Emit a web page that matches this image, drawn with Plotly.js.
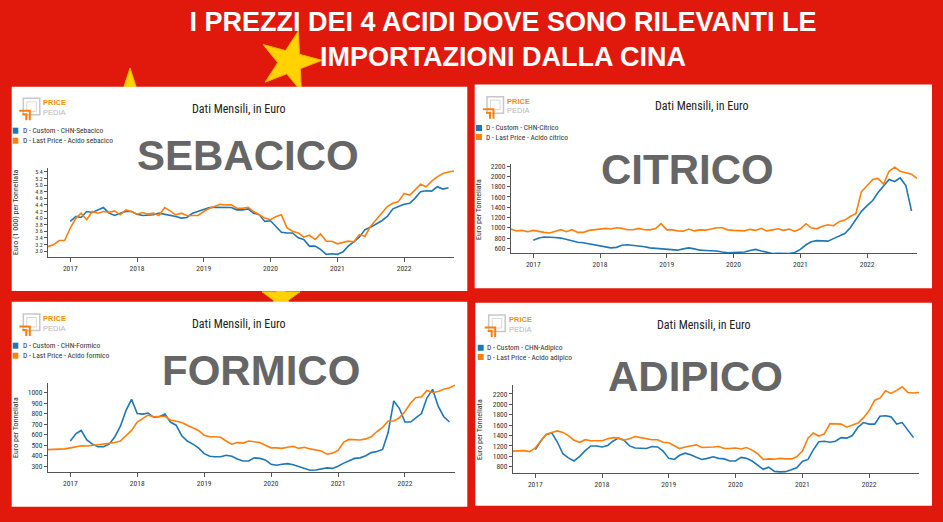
<!DOCTYPE html>
<html><head><meta charset="utf-8">
<script src="https://cdn.plot.ly/plotly-3.0.1.min.js"></script>
<style>html,body{margin:0;padding:0;background:#E1190C;} #chart{width:943px;height:522px;}</style>
</head><body><div id="chart"></div>
<script>
// ---------- DATA ----------
const months = [
'2016-09','2016-10','2016-11','2016-12',
'2017-01','2017-02','2017-03','2017-04','2017-05','2017-06','2017-07','2017-08','2017-09','2017-10','2017-11','2017-12',
'2018-01','2018-02','2018-03','2018-04','2018-05','2018-06','2018-07','2018-08','2018-09','2018-10','2018-11','2018-12',
'2019-01','2019-02','2019-03','2019-04','2019-05','2019-06','2019-07','2019-08','2019-09','2019-10','2019-11','2019-12',
'2020-01','2020-02','2020-03','2020-04','2020-05','2020-06','2020-07','2020-08','2020-09','2020-10','2020-11','2020-12',
'2021-01','2021-02','2021-03','2021-04','2021-05','2021-06','2021-07','2021-08','2021-09','2021-10','2021-11','2021-12',
'2022-01','2022-02','2022-03','2022-04','2022-05','2022-06','2022-07','2022-08','2022-09','2022-10'];
const monthsChn = months.slice(4, 73); // 2017-01 .. 2022-09

const yearTicks = ['2017-01-01','2018-01-01','2019-01-01','2020-01-01','2021-01-01','2022-01-01'];
const yearLabels = ['2017','2018','2019','2020','2021','2022'];

// Sebacico (thousand euro / t)
const sebacicoLast = [3.14,3.19,3.32,3.32,
 3.70,4.00,4.15,3.95,4.20,4.15,4.20,4.18,4.22,4.10,4.25,4.20,
 4.12,4.17,4.12,4.15,4.08,4.32,4.22,4.10,4.15,4.07,4.08,4.08,
 4.20,4.30,4.35,4.42,4.40,4.40,4.30,4.30,4.33,4.20,4.10,4.00,
 3.95,4.05,4.10,3.70,3.60,3.55,3.42,3.48,3.35,3.52,3.30,3.30,
 3.22,3.27,3.30,3.28,3.50,3.45,3.75,3.95,4.15,4.35,4.45,4.50,
 4.75,4.70,4.85,5.03,4.95,5.12,5.25,5.35,5.40,5.43];
const sebacicoChn = [
 3.90,4.05,4.02,4.20,4.17,4.25,4.32,4.15,4.08,4.15,4.20,4.20,
 4.12,4.08,4.10,4.10,4.15,4.12,4.08,4.05,4.00,4.02,4.15,4.20,
 4.25,4.32,4.33,4.33,4.33,4.32,4.25,4.25,4.28,4.15,4.10,3.90,
 3.92,3.75,3.57,3.55,3.55,3.40,3.35,3.15,3.15,3.05,2.90,2.92,
 2.90,2.98,3.15,3.28,3.42,3.65,3.72,3.82,3.92,4.05,4.28,4.35,
 4.42,4.45,4.60,4.80,4.83,4.82,4.95,4.88,4.92];

// Citrico
const citricoLast = [976,937,950,924,
 950,924,911,898,937,963,924,963,911,911,950,963,
 963,989,976,1002,989,963,963,989,963,960,985,1080,
 960,960,940,935,975,940,960,955,975,1000,1000,960,
 950,950,940,970,950,990,940,960,980,950,975,930,
 980,1080,1000,980,1030,1060,1040,1120,1150,1220,1280,1700,
 1820,1940,1960,1850,2100,2180,2100,2070,2040,1960];
const citricoChn = [
 760,800,820,820,810,800,770,740,720,710,690,670,
 640,620,610,620,660,670,660,650,630,610,600,590,
 580,575,565,590,610,590,565,560,555,550,530,515,
 520,525,530,560,580,550,520,500,505,500,500,520,
 580,670,730,750,745,740,790,840,890,1000,1150,1320,
 1430,1530,1680,1820,1940,1900,1970,1820,1330];

// Formico
const formicoLast = [458,460,462,465,
 475,485,495,492,495,505,510,515,525,540,590,640,
 720,750,785,770,775,775,740,725,715,690,665,640,
 595,580,580,575,540,510,525,520,540,535,525,500,
 475,475,470,480,490,470,480,465,455,445,415,425,
 450,530,555,550,550,560,580,630,670,730,730,760,
 820,900,950,960,1020,1000,1010,1030,1045,1070];
const formicoChn = [
 540,610,640,550,510,485,485,510,580,680,830,935,
 800,795,805,765,770,795,720,690,590,540,510,475,
 420,395,390,390,405,395,370,350,350,380,375,360,
 320,310,320,325,315,295,280,262,265,275,285,280,
 300,330,355,375,380,400,430,440,460,620,920,850,
 720,720,760,800,950,1030,870,770,720];

// Adipico
const adipicoLast = [1100,1100,1110,1090,
 1160,1300,1420,1460,1490,1460,1400,1310,1270,1320,1300,1300,
 1300,1340,1360,1350,1310,1340,1380,1360,1340,1320,1320,1270,
 1260,1200,1150,1180,1200,1220,1170,1170,1180,1190,1150,1150,
 1160,1140,1170,1120,1050,940,950,945,960,950,950,990,
 1100,1350,1450,1390,1430,1630,1630,1620,1560,1600,1640,1740,
 1880,2080,2120,2260,2210,2270,2340,2230,2220,2230];
const adipicoChn = [
 1130,1300,1420,1450,1280,1050,970,910,1000,1110,1200,1200,
 1180,1210,1290,1350,1310,1200,1160,1160,1150,1190,1180,1100,
 960,940,1020,1060,1030,980,940,960,990,960,950,910,
 910,980,960,910,830,750,790,710,700,705,740,780,
 900,940,1120,1280,1290,1270,1290,1360,1350,1400,1560,1650,
 1620,1620,1770,1780,1760,1620,1650,1500,1360];

const acidNames = ['SEBACICO','CITRICO','FORMICO','ADIPICO'];
const chnNames = ['D - Custom - CHN-Sebacico','D - Custom - CHN-Citrico','D - Custom - CHN-Formico','D - Custom - CHN-Adipico'];
const lastNames = ['D - Last Price - Acido sebacico','D - Last Price - Acido citrico','D - Last Price - Acido formico','D - Last Price - Acido adipico'];
const yTitles = ['Euro (1 000) per Tonnellata','Euro per Tonnellata','Euro per Tonnellata','Euro per Tonnellata'];
const panelTitle = 'Dati Mensili, in Euro';
const mainTitle = 'I PREZZI DEI 4 ACIDI DOVE SONO RILEVANTI LE<br>IMPORTAZIONI DALLA CINA';

// ---------- LAYOUT HELPERS ----------
const W = 943, H = 522;
const fx = x => x / W, fy = y => 1 - y / H;
const BLUE = '#1f77b4', ORANGE = '#ff7f0e';
const NARROW = '"Liberation Sans Narrow", "Roboto Condensed", "DejaVu Sans Condensed", "Arial Narrow", sans-serif';
const ARIAL = '"Liberation Sans", Arial, sans-serif';

const panels = [
  {rect:[11.7,86.7,467.3,291], plot:[48,168,454,257], yr:[2.82,5.52], dtick:0.2, tick0:3.0, fmt:'.1f', tsize:6,
   title:[239,109], label:[248,155], sq:[12.7,18.3], leg:[130.7,140.7], tx:21, logo:[23.3,98.3], yt:[15,213]},
  {rect:[474.7,84.5,932,288.3], plot:[511,164.3,917,253], yr:[510,2235], dtick:200, tick0:600, fmt:'d', tsize:7.5,
   title:[701.7,105.7], label:[687,169.5], sq:[476,482], leg:[128,137], tx:483.7, logo:[487,96.7], yt:[478,210]},
  {rect:[11.7,301.7,467.3,506.7], plot:[48,383,455,472], yr:[246,1090], dtick:100, tick0:300, fmt:'d', tsize:7.5,
   title:[239,324], label:[261,370], sq:[12.7,18.3], leg:[345.7,355.7], tx:21, logo:[23.3,314], yt:[15,428]},
  {rect:[475.3,302.7,932,505.7], plot:[513,385,919,473.3], yr:[673,2373], dtick:200, tick0:800, fmt:'d', tsize:7.5,
   title:[703.7,325], label:[695,376], sq:[477.7,483.7], leg:[347.8,357], tx:485.3, logo:[488.7,315], yt:[479,430]}
];
const series = [
  [sebacicoChn, sebacicoLast],
  [citricoChn, citricoLast],
  [formicoChn, formicoLast],
  [adipicoChn, adipicoLast]
];

function starPath(cx, cy, R, rot){
  const r = R*0.382; let d = '';
  for (let i=0;i<10;i++){
    const a = (rot + i*36)*Math.PI/180, rad = (i%2)? r : R;
    const x = cx + rad*Math.sin(a), y = cy - rad*Math.cos(a);
    d += (i? 'L':'M') + fx(x).toFixed(5) + ',' + fy(y).toFixed(5);
  }
  return d + 'Z';
}
function pathPx(pts){
  return pts.map((p,i)=>(i?'L':'M')+fx(p[0]).toFixed(5)+','+fy(p[1]).toFixed(5)).join('');
}

const traces = [];
const layout = {
  width: W, height: H,
  margin: {l:0, r:0, t:0, b:0},
  paper_bgcolor: '#E1190C',
  plot_bgcolor: 'rgba(0,0,0,0)',
  showlegend: false,
  font: {family: NARROW, color:'#333'},
  title: {text: '<b>'+mainTitle+'</b>', x: fx(503), xanchor:'center', y: fy(31), yanchor:'middle',
          font: {family: ARIAL, size:27, color:'#ffffff'}},
  shapes: [], annotations: []
};

// decorative stars (behind the white panels)
const STAR = '#FFD200';
[[290,62,32,15],[130,98,30,0],[281,298,20,0]].forEach(s=>{
  layout.shapes.push({type:'path', xref:'paper', yref:'paper', path: starPath(s[0],s[1],s[2],s[3]),
    fillcolor: STAR, line:{color:'#FFB000', width:1}, layer:'below'});
});

panels.forEach((p, i) => {
  const k = i===0 ? '' : String(i+1);
  // white panel
  layout.shapes.push({type:'rect', xref:'paper', yref:'paper', x0:fx(p.rect[0]), x1:fx(p.rect[2]),
    y0:fy(p.rect[3]), y1:fy(p.rect[1]), fillcolor:'#ffffff', line:{width:0}, layer:'below'});
  // axes
  layout['xaxis'+k] = {domain:[fx(p.plot[0]), fx(p.plot[2])], anchor:'y'+k, type:'date',
    range:['2016-09-01','2022-10-01'], tickmode:'array', tickvals:yearTicks, ticktext:yearLabels,
    showline:true, linecolor:'#555', linewidth:1, ticks:'outside', ticklen:4, tickcolor:'#555',
    showgrid:false, zeroline:false, tickfont:{family:NARROW, size:7.5, color:'#333'}, fixedrange:true};
  layout['yaxis'+k] = {domain:[fy(p.plot[3]), fy(p.plot[1])], anchor:'x'+k, range:p.yr,
    tick0:p.tick0, dtick:p.dtick, tickformat:p.fmt,
    showline:true, linecolor:'#555', linewidth:1, ticks:'outside', ticklen:3, tickcolor:'#555',
    showgrid:false, zeroline:false, tickfont:{family:NARROW, size:p.tsize, color:'#333'}, fixedrange:true};
  // y-axis title
  layout.annotations.push({xref:'paper', yref:'paper', x:fx(p.yt[0]), y:fy(p.yt[1]), xanchor:'center', yanchor:'middle',
    showarrow:false, textangle:-90, text:yTitles[i], font:{family:NARROW, size:8, color:'#333'}});
  // traces
  traces.push({type:'scatter', mode:'lines', name:chnNames[i], x:monthsChn, y:series[i][0],
    xaxis:'x'+k, yaxis:'y'+k, line:{color:BLUE, width:1.6}, hoverinfo:'x+y+name'});
  traces.push({type:'scatter', mode:'lines', name:lastNames[i], x:months, y:series[i][1],
    xaxis:'x'+k, yaxis:'y'+k, line:{color:ORANGE, width:1.6}, hoverinfo:'x+y+name'});
  // panel title
  layout.annotations.push({xref:'paper', yref:'paper', x:fx(p.title[0]), y:fy(p.title[1]),
    xanchor:'center', yanchor:'middle', showarrow:false, text:panelTitle,
    font:{family:NARROW, size:12, color:'#222'}});
  // big label
  layout.annotations.push({xref:'paper', yref:'paper', x:fx(p.label[0]), y:fy(p.label[1]),
    xanchor:'center', yanchor:'middle', showarrow:false, text:'<b>'+acidNames[i]+'</b>',
    font:{family: ARIAL, size:42, color:'#666666'}});
  // legend squares + labels
  [[BLUE, chnNames[i]],[ORANGE, lastNames[i]]].forEach((it, j)=>{
    const yc = p.leg[j];
    layout.shapes.push({type:'rect', xref:'paper', yref:'paper', x0:fx(p.sq[0]), x1:fx(p.sq[1]),
      y0:fy(yc+3), y1:fy(yc-3), fillcolor:it[0], line:{width:0}, layer:'above'});
    layout.annotations.push({xref:'paper', yref:'paper', x:fx(p.tx), y:fy(yc), xanchor:'left', yanchor:'middle',
      showarrow:false, text:it[1], font:{family:NARROW, size:7.5, color:'#333'}});
  });
  // logo
  const lx = p.logo[0], ly = p.logo[1];
  layout.shapes.push({type:'rect', xref:'paper', yref:'paper', x0:fx(lx), x1:fx(lx+16.5), y0:fy(ly+16.5), y1:fy(ly),
    line:{color:'#c8c8c8', width:1.5}, fillcolor:'rgba(0,0,0,0)', layer:'above'});
  layout.shapes.push({type:'rect', xref:'paper', yref:'paper', x0:fx(lx+3.5), x1:fx(lx+13), y0:fy(ly+13), y1:fy(ly+3.5),
    line:{color:'#d8d8d8', width:1}, fillcolor:'rgba(0,0,0,0)', layer:'above'});
  layout.shapes.push({type:'path', xref:'paper', yref:'paper', path:pathPx([[lx-4,ly+12.5],[lx+6.5,ly+12.5],[lx+6.5,ly+22]]),
    line:{color:ORANGE, width:2}, layer:'above'});
  layout.shapes.push({type:'path', xref:'paper', yref:'paper', path:pathPx([[lx-1,ly+16],[lx+3,ly+16],[lx+3,ly+22]]),
    line:{color:ORANGE, width:2}, layer:'above'});
  layout.annotations.push({xref:'paper', yref:'paper', x:fx(lx+18), y:fy(ly+4.6), xanchor:'left', yanchor:'middle',
    showarrow:false, text:'<b>PRICE</b>', font:{family: ARIAL, size:7.5, color:'#F39200'}});
  layout.annotations.push({xref:'paper', yref:'paper', x:fx(lx+18), y:fy(ly+14), xanchor:'left', yanchor:'middle',
    showarrow:false, text:'PEDIA', font:{family: ARIAL, size:7.5, color:'#b8b8b8'}});
});

Plotly.newPlot('chart', traces, layout, {displayModeBar:false, staticPlot:true});
</script>
</body></html>
